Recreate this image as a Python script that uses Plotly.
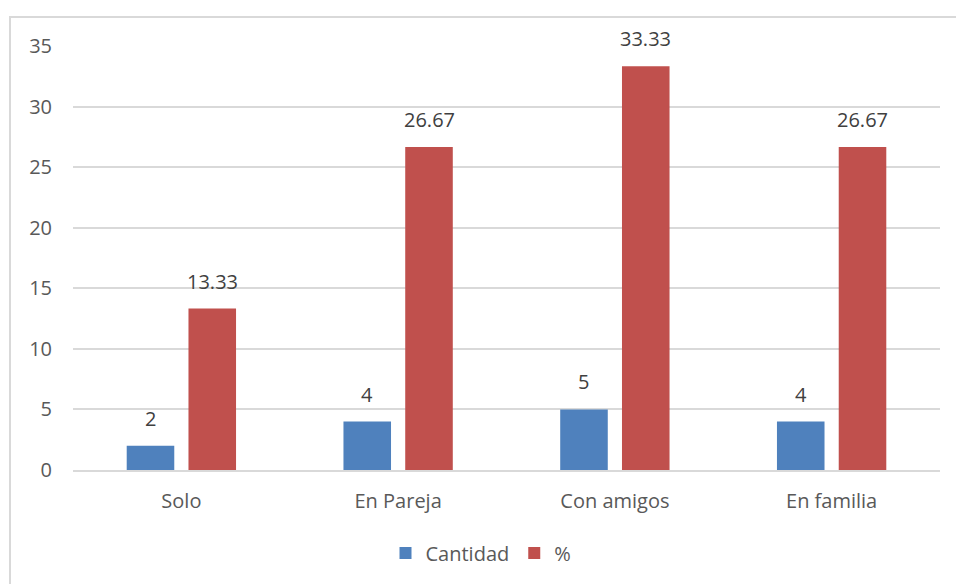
import plotly.graph_objects as go

categories = ["Solo", "En Pareja", "Con amigos", "En familia"]
cantidad = [2, 4, 5, 4]
porcentaje = [13.33, 26.67, 33.33, 26.67]
pct_labels = ["13.33", "26.67", "33.33", "26.67"]

W, H = 956, 584
L, R, T, B = 73, 16, 46, 114
pw, ph = W - L - R, H - T - B

font = "Open Sans, Carlito, Calibri, sans-serif"
tc = "#595959"
fs = 20

def py(pix):
    return 1 - (pix - T) / ph

def px(pix):
    return (pix - L) / pw

fig = go.Figure()
fig.add_trace(go.Bar(name="Cantidad", x=categories, y=cantidad,
                     marker=dict(color="#4f81bd", line=dict(width=0))))
fig.add_trace(go.Bar(name="%", x=categories, y=porcentaje,
                     marker=dict(color="#c0504d", line=dict(width=0))))

annotations = []
for c, v in zip(categories, cantidad):
    annotations.append(dict(x=c, y=v, text=str(v), showarrow=False, xshift=-31,
                            yanchor="bottom", yshift=12,
                            font=dict(size=fs, color="#404040", family=font)))
for c, v, t in zip(categories, porcentaje, pct_labels):
    annotations.append(dict(x=c, y=v, text=t, showarrow=False, xshift=31,
                            yanchor="bottom", yshift=12,
                            font=dict(size=fs, color="#404040", family=font)))

fig.update_layout(
    width=W, height=H,
    margin=dict(l=L, r=R, t=T, b=B),
    paper_bgcolor="white", plot_bgcolor="white",
    font=dict(family=font, size=fs, color=tc),
    barmode="group", bargap=0.43, bargroupgap=0.23,
    showlegend=True,
    legend=dict(orientation="h", x=px(481), xanchor="center",
                y=py(553), yanchor="middle", bgcolor="rgba(0,0,0,0)",
                font=dict(size=fs, color=tc, family=font), itemwidth=30,
                traceorder="normal"),
    xaxis=dict(showgrid=False, showline=True, linecolor="#d9d9d9", linewidth=2,
               ticks="", tickfont=dict(size=fs, color=tc), ticklabelstandoff=12),
    yaxis=dict(range=[0, 35], dtick=5, showgrid=True, gridcolor="#d9d9d9", gridwidth=2,
               zeroline=False, showline=False, ticks="",
               tickfont=dict(size=fs, color=tc), ticklabelstandoff=20),
    annotations=annotations,
    shapes=[dict(type="rect", xref="paper", yref="paper",
                 x0=px(10), x1=px(W + 20),
                 y0=py(H + 20), y1=py(17),
                 line=dict(color="#d9d9d9", width=2), fillcolor="rgba(0,0,0,0)", layer="below")],
)

fig.write_html("out.html")
